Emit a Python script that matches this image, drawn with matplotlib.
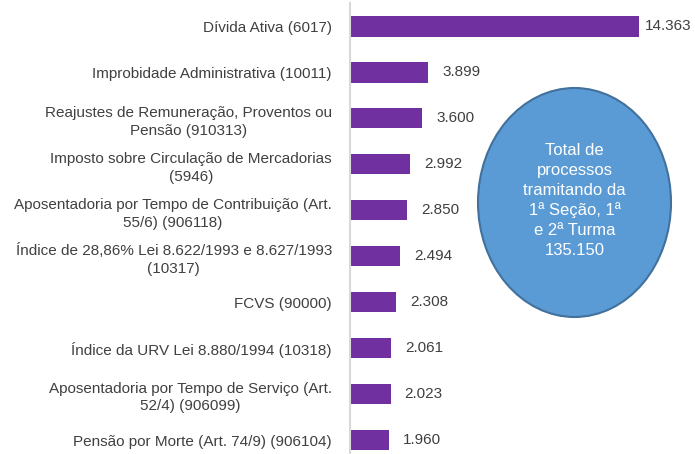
import matplotlib
matplotlib.use("Agg")
import matplotlib.pyplot as plt
from matplotlib.patches import Ellipse
from matplotlib import font_manager

categories = [
    "Dívida Ativa (6017)",
    "Improbidade Administrativa (10011)",
    "Reajustes de Remuneração, Proventos ou\nPensão (910313)",
    "Imposto sobre Circulação de Mercadorias\n(5946)",
    "Aposentadoria por Tempo de Contribuição (Art.\n55/6) (906118)",
    "Índice de 28,86% Lei 8.622/1993 e 8.627/1993\n(10317)",
    "FCVS (90000)",
    "Índice da URV Lei 8.880/1994 (10318)",
    "Aposentadoria por Tempo de Serviço (Art.\n52/4) (906099)",
    "Pensão por Morte (Art. 74/9) (906104)",
]
values = [14363, 3899, 3600, 2992, 2850, 2494, 2308, 2061, 2023, 1960]
value_labels = ["14.363", "3.899", "3.600", "2.992", "2.850", "2.494", "2.308", "2.061", "2.023", "1.960"]
bubble_text = "Total de\nprocessos\ntramitando da\n1ª Seção, 1ª\ne 2ª Turma\n135.150"

names = {f.name for f in font_manager.fontManager.ttflist}
fam = ["Liberation Sans Narrow"] if "Liberation Sans Narrow" in names else ["Liberation Sans"]
plt.rcParams["font.family"] = fam + ["DejaVu Sans"]

fig = plt.figure(figsize=(6.95, 4.54), dpi=100)
ax = fig.add_axes([350 / 695, -0.0198, 342 / 695, 1.0121])

y = list(range(len(values)))
bars = ax.barh(y, values, height=0.44, color="#7030A0")
ax.set_ylim(len(values) - 0.5, -0.5)
ax.set_xlim(0, 17000)

for i, (v, lab) in enumerate(zip(values, value_labels)):
    pad = 4 if i == 0 else 10
    ax.annotate(lab, xy=(v, i), xytext=(pad, 0), textcoords="offset points",
                ha="left", va="center", fontsize=11, color="#404040")

ax.set_yticks(y)
ax.set_yticklabels(categories, fontsize=11, color="#404040",
                   multialignment="center", linespacing=1.35)
ax.tick_params(axis="y", length=0, pad=13)
ax.set_xticks([])
for s in ["top", "right", "bottom"]:
    ax.spines[s].set_visible(False)
ax.spines["left"].set_color("#D9D9D9")
ax.spines["left"].set_linewidth(1.5)

# bubble in figure pixel coordinates
ell = Ellipse((574.5 / 695, 1 - 202.5 / 454), 193 / 695, 229 / 454,
              transform=fig.transFigure, facecolor="#5B9BD5", edgecolor="#41719C",
              linewidth=1.5, zorder=5)
fig.add_artist(ell)
fig.text(574.5 / 695, 1 - 200.5 / 454, bubble_text, ha="center", va="center",
         fontsize=12, color="white", linespacing=1.38, zorder=6)

fig.savefig("out.png", dpi=100)
